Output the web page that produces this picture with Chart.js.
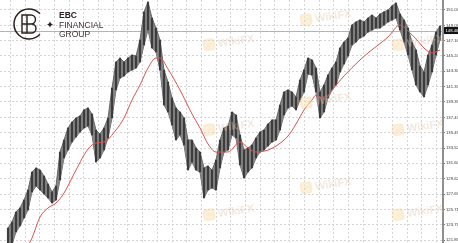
<!DOCTYPE html>
<html>
<head>
<meta charset="utf-8">
<script src="https://cdn.jsdelivr.net/npm/chart.js@4.4.0/dist/chart.umd.min.js"></script>
<style>
  html, body { margin: 0; padding: 0; background: #fff; }
  #wrap { width: 458px; height: 243px; position: relative; }
</style>
</head>
<body>
<div id="wrap"><canvas id="price-chart"></canvas></div>
<script>
// bar highs / lows (one bar per ~4px)
const highs = [
  123.37, 124.14, 125.41, 125.92, 126.93, 128.20, 130.49, 131.00, 130.74, 129.98,
  128.96, 127.95, 128.71, 133.03, 134.55, 136.08, 136.84, 137.35, 137.60, 138.37,
  138.62, 137.86, 135.82, 135.32, 136.08, 137.35, 141.16, 144.46, 144.97, 144.46,
  144.97, 145.35, 145.23, 147.26, 150.82, 152.09, 150.05, 148.78, 147.26, 143.45,
  141.92, 139.89, 138.62, 138.11, 137.35, 134.55, 134.55, 133.54, 133.03, 131.00,
  131.25, 130.74, 132.01, 134.55, 136.08, 136.33, 138.11, 137.73, 135.19, 133.28,
  133.54, 133.92, 134.81, 135.57, 135.82, 136.59, 137.10, 137.10, 139.00, 140.65,
  140.91, 140.65, 140.02, 142.18, 143.45, 144.97, 144.72, 143.70, 140.65, 141.54,
  142.81, 143.70, 144.46, 146.24, 147.00, 147.51, 149.16, 149.55, 149.80, 149.55,
  150.05, 150.43, 150.05, 150.56, 150.82, 151.07, 151.58, 151.96, 150.56, 149.80,
  148.78, 147.00, 145.99, 143.95, 143.19, 145.35, 146.62, 148.27, 149.04
];
const lows = [
  121.30, 121.30, 122.87, 123.63, 124.65, 125.66, 127.95, 128.71, 128.20, 127.69,
  127.19, 126.55, 126.93, 129.47, 132.27, 133.28, 134.30, 134.94, 135.57, 136.08,
  136.33, 135.19, 131.76, 132.27, 133.28, 134.81, 137.35, 140.91, 142.43, 142.68,
  143.19, 143.45, 143.70, 144.46, 146.62, 148.53, 146.24, 145.73, 143.45, 139.00,
  138.11, 136.46, 134.55, 135.19, 133.92, 130.74, 131.76, 130.74, 130.49, 127.19,
  128.20, 128.46, 128.20, 131.00, 133.03, 133.28, 135.19, 134.81, 131.38, 129.73,
  130.49, 131.00, 132.27, 133.03, 133.28, 133.79, 134.30, 134.55, 135.82, 137.73,
  138.62, 138.87, 138.37, 139.64, 140.65, 142.94, 142.81, 140.65, 137.35, 138.11,
  139.89, 140.91, 141.54, 143.19, 144.21, 145.23, 146.62, 147.00, 147.51, 147.77,
  148.27, 148.53, 148.78, 148.78, 149.16, 149.55, 149.80, 150.05, 148.53, 147.00,
  145.35, 143.45, 141.54, 140.65, 140.02, 141.54, 143.19, 145.35, 147.26
];

// moving average (red line): bar index -> value
const maIndex = [5, 6, 8, 10, 12, 14, 17, 20, 22, 24, 27, 29, 31, 33, 35, 37, 38, 40, 43, 46,
  48, 50, 52, 55, 58, 60, 62, 65, 67, 70, 72, 74, 76, 77, 79, 81, 84, 88, 90, 95,
  98, 100, 102, 104, 106, 108];
const maValues = [121.10, 122.10, 124.77, 125.92, 126.55, 127.82, 130.74, 133.41, 134.17, 134.30,
  135.83, 137.35, 139.64, 141.54, 143.70, 144.97, 144.97, 143.57, 140.91, 137.86,
  136.08, 134.05, 133.03, 133.03, 134.30, 133.54, 133.03, 133.28, 133.79, 135.06,
  136.59, 138.37, 139.64, 140.27, 139.76, 140.91, 142.69, 144.72, 145.61, 147.64,
  149.16, 148.40, 147.39, 146.24, 145.61, 145.99];

const priceTicks = [151.07, 149.09, 147.16, 145.24, 143.30, 141.33, 139.39, 137.43,
  135.49, 133.52, 131.60, 129.62, 127.69, 125.71, 123.79, 121.85];
const lastPrice = 148.46;

const FONT = '"Liberation Sans", Arial, sans-serif';
const BAND_GREY = '#858585';
const BAR_GREY = '#3c3c3c';

function drawWatermark(ctx, cx, cy) {
    ctx.save();
    ctx.translate(cx, cy);
    ctx.rotate(-0.14);
    ctx.globalAlpha = 0.4;
    ctx.fillStyle = '#f4cf8e';
    ctx.beginPath();
    ctx.roundRect(-25, -6, 12, 12, 3);
    ctx.fill();
    ctx.strokeStyle = '#ffffff';
    ctx.lineWidth = 1.2;
    ctx.beginPath();
    ctx.arc(-19, 0, 3.2, 0.3, Math.PI * 1.9);
    ctx.stroke();
    ctx.fillStyle = '#e2c6b0';
    ctx.font = 'bold 11px ' + FONT;
    ctx.textBaseline = 'middle';
    ctx.fillText('WikiFX', -10, 0.5);
    ctx.restore();
}

function drawLogo(ctx) {
    ctx.save();
    ctx.strokeStyle = '#2b1c1c';
    ctx.fillStyle = '#2b1c1c';
    ctx.lineWidth = 1.5;
    ctx.beginPath();
    ctx.arc(29, 24, 15, 0.24 * Math.PI, 1.76 * Math.PI);
    ctx.stroke();
    // E + B glyph
    ctx.lineWidth = 1.4;
    ctx.beginPath();
    ctx.moveTo(28, 15); ctx.lineTo(22, 15); ctx.lineTo(22, 33); ctx.lineTo(28, 33);
    ctx.moveTo(22, 24); ctx.lineTo(27, 24);
    ctx.moveTo(27, 15); ctx.lineTo(27, 33);
    ctx.moveTo(27, 15); ctx.lineTo(31, 15);
    ctx.arc(31, 19.5, 4.5, -Math.PI / 2, Math.PI / 2);
    ctx.lineTo(27, 24);
    ctx.moveTo(31, 24);
    ctx.arc(31.5, 28.5, 4.5, -Math.PI / 2, Math.PI / 2);
    ctx.lineTo(27, 33);
    ctx.stroke();
    // small star
    ctx.beginPath();
    ctx.moveTo(50, 21.5); ctx.lineTo(51, 23.5); ctx.lineTo(53, 24.5); ctx.lineTo(51, 25.5);
    ctx.lineTo(50, 27.5); ctx.lineTo(49, 25.5); ctx.lineTo(47, 24.5); ctx.lineTo(49, 23.5);
    ctx.closePath();
    ctx.fill();
    ctx.textBaseline = 'alphabetic';
    ctx.font = 'bold 8.5px ' + FONT;
    ctx.fillText('EBC', 59, 18);
    ctx.fillStyle = '#3e3030';
    ctx.font = '8.5px ' + FONT;
    ctx.fillText('FINANCIAL', 59, 27.5);
    ctx.fillText('GROUP', 59, 37);
    ctx.restore();
}

const overlay = {
    id: 'overlay',
    beforeDatasetsDraw(chart) {
        const {ctx, chartArea} = chart;
        const y = Math.round(chart.scales.y.getPixelForValue(lastPrice)) + 0.5;
        ctx.save();
        ctx.strokeStyle = '#b4b4b4';
        ctx.lineWidth = 1;
        ctx.beginPath();
        ctx.moveTo(chartArea.left, y);
        ctx.lineTo(chartArea.right, y);
        ctx.stroke();
        ctx.restore();
    },
    afterDatasetsDraw(chart) {
        const ctx = chart.ctx;
        const marks = [[228, 42], [325, 17], [417, 42], [228, 127], [325, 100],
            [417, 127], [325, 185], [228, 212], [417, 212]];
        marks.forEach(m => drawWatermark(ctx, m[0], m[1]));
    },
    afterDraw(chart) {
        const {ctx, chartArea} = chart;
        drawLogo(ctx);
        const y = chart.scales.y.getPixelForValue(lastPrice);
        ctx.save();
        ctx.fillStyle = '#111';
        ctx.fillRect(chartArea.right + 1, y - 3.5, 15, 7);
        ctx.fillStyle = '#fff';
        ctx.font = '4.2px ' + FONT;
        ctx.textBaseline = 'middle';
        ctx.fillText(lastPrice.toFixed(2), chartArea.right + 2.5, y + 0.3);
        ctx.restore();
    }
};

function buildChart() {
    const ctx = document.getElementById('price-chart');
    const highData = highs.map((h, i) => ({ x: i, y: h }));
    const lowData = lows.map((l, i) => ({ x: i, y: l }));
    const barData = highs.map((h, i) => ({ x: i, y: [lows[i], h] }));
    const maData = maIndex.map((x, i) => ({ x: x, y: maValues[i] }));

    new Chart(ctx, {
        type: 'bar',
        data: {
            datasets: [
                {
                    type: 'line',
                    data: maData,
                    borderColor: '#d9534f',
                    borderWidth: 1,
                    pointRadius: 0,
                    tension: 0.4,
                    cubicInterpolationMode: 'monotone',
                    order: 0
                },
                {
                    type: 'line',
                    data: highData,
                    borderColor: '#666',
                    backgroundColor: BAND_GREY,
                    borderWidth: 1,
                    pointRadius: 0,
                    fill: '+1',
                    order: 2
                },
                {
                    type: 'line',
                    data: lowData,
                    borderColor: '#666',
                    borderWidth: 1,
                    pointRadius: 0,
                    fill: false,
                    order: 2
                },
                {
                    data: barData,
                    backgroundColor: BAR_GREY,
                    barThickness: 1.5,
                    order: 1
                }
            ]
        },
        options: {
            responsive: true,
            maintainAspectRatio: false,
            animation: false,
            layout: { padding: 0 },
            plugins: { legend: { display: false }, tooltip: { enabled: false } },
            scales: {
                x: {
                    type: 'linear',
                    min: -2,
                    max: 108.75,
                    offset: false,
                    ticks: { display: false },
                    grid: { color: '#d5d5d5', drawTicks: false, offset: false },
                    border: { display: false, dash: [2, 2] },
                    afterBuildTicks: scale => {
                        const t = [];
                        for (let v = 0.6; v < 108.75; v += 3.675) t.push({ value: v });
                        scale.ticks = t;
                    },
                    afterFit: scale => {
                        scale.height = 0;
                        scale.paddingLeft = 0;
                        scale.paddingRight = 0;
                    }
                },
                y: {
                    position: 'right',
                    min: 121.47,
                    max: 152.34,
                    ticks: {
                        autoSkip: false,
                        color: '#333',
                        padding: 1,
                        font: { size: 4.2, family: FONT },
                        callback: v => v.toFixed(2)
                    },
                    grid: { color: '#d5d5d5', tickColor: '#777', tickLength: 2 },
                    border: { display: true, color: '#8f8f8f', width: 2, dash: [2, 2] },
                    afterBuildTicks: scale => {
                        scale.ticks = priceTicks.map(v => ({ value: v }));
                    },
                    afterFit: scale => {
                        scale.width = 15;
                        scale.paddingTop = 0;
                        scale.paddingBottom = 0;
                    }
                }
            }
        },
        plugins: [overlay]
    });
}

buildChart();
</script>
</body>
</html>
